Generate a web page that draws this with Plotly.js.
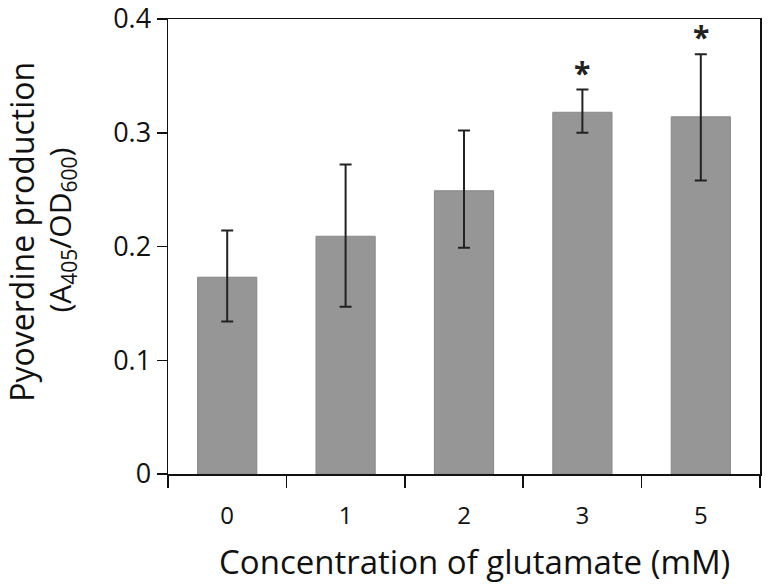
<!DOCTYPE html>
<html>
<head>
<meta charset="utf-8">
<script src="https://cdn.plot.ly/plotly-3.0.1.min.js"></script>
<style>
  html, body { margin: 0; padding: 0; background: #fff; }
  #plot { width: 768px; height: 584px; }
</style>
</head>
<body>
<div id="plot"></div>
<script>
const concentrations = ["0", "1", "2", "3", "5"];
const pyoverdine = [0.173, 0.209, 0.249, 0.318, 0.314];
const errUpper = [0.041, 0.063, 0.053, 0.020, 0.055];
const errLower = [0.039, 0.062, 0.050, 0.018, 0.056];
const significant = [false, false, false, true, true];
const yTicks = [0, 0.1, 0.2, 0.3, 0.4];
const yTickText = ["0", "0.1", "0.2", "0.3", "0.4"];

const FONT = "'Open Sans', Lato, sans-serif";

const bars = {
  type: "bar",
  x: concentrations,
  y: pyoverdine,
  width: 0.5,
  marker: { color: "#969696", line: { color: "#888888", width: 1 } },
  error_y: {
    type: "data",
    symmetric: false,
    array: errUpper,
    arrayminus: errLower,
    color: "#222222",
    thickness: 2,
    width: 6
  },
  hoverinfo: "x+y"
};

// asterisks above significant bars (x given as category index)
const notes = [];
significant.forEach((sig, i) => {
  if (!sig) return;
  notes.push({
    x: i,
    y: pyoverdine[i] + errUpper[i],
    text: "<b>*</b>",
    showarrow: false,
    yanchor: "bottom",
    yshift: -5,
    font: { family: FONT, size: 30, color: "#222" }
  });
});

// axis titles as annotations so they sit where the original has them
notes.push({
  xref: "paper", yref: "paper",
  x: -0.247, y: 0.532,
  xanchor: "center", yanchor: "middle",
  textangle: -90,
  showarrow: false,
  text: "Pyoverdine production",
  font: { family: FONT, size: 32, color: "#111" }
});
notes.push({
  xref: "paper", yref: "paper",
  x: -0.181, y: 0.537,
  xanchor: "center", yanchor: "middle",
  textangle: -90,
  showarrow: false,
  text: "(A<sub>405</sub>/OD<sub>600</sub>)",
  font: { family: FONT, size: 30, color: "#111" }
});
notes.push({
  xref: "paper", yref: "paper",
  x: 0.517, y: -0.193,
  xanchor: "center", yanchor: "middle",
  showarrow: false,
  text: "Concentration of glutamate (mM)",
  font: { family: FONT, size: 33, color: "#111" }
});

Plotly.newPlot("plot", [bars], {
  width: 768,
  height: 584,
  margin: { l: 168, r: 8, t: 19, b: 110 },
  paper_bgcolor: "#fff",
  plot_bgcolor: "#fff",
  showlegend: false,
  font: { family: FONT, color: "#111" },
  xaxis: {
    type: "category",
    tickson: "boundaries",
    ticks: "outside",
    ticklen: 12,
    tickwidth: 1.5,
    tickcolor: "#111",
    ticklabelstandoff: 20,
    showline: true,
    linecolor: "#111",
    linewidth: 1.5,
    mirror: true,
    tickfont: { family: FONT, size: 24 }
  },
  yaxis: {
    range: [0, 0.4],
    tickvals: yTicks,
    ticktext: yTickText,
    ticks: "outside",
    ticklen: 10,
    tickwidth: 1.5,
    tickcolor: "#111",
    ticklabeloverflow: "allow",
    showline: true,
    linecolor: "#111",
    linewidth: 1.5,
    mirror: true,
    showgrid: false,
    zeroline: false,
    tickfont: { family: FONT, size: 27 }
  },
  annotations: notes
}, { staticPlot: true });
</script>
</body>
</html>
